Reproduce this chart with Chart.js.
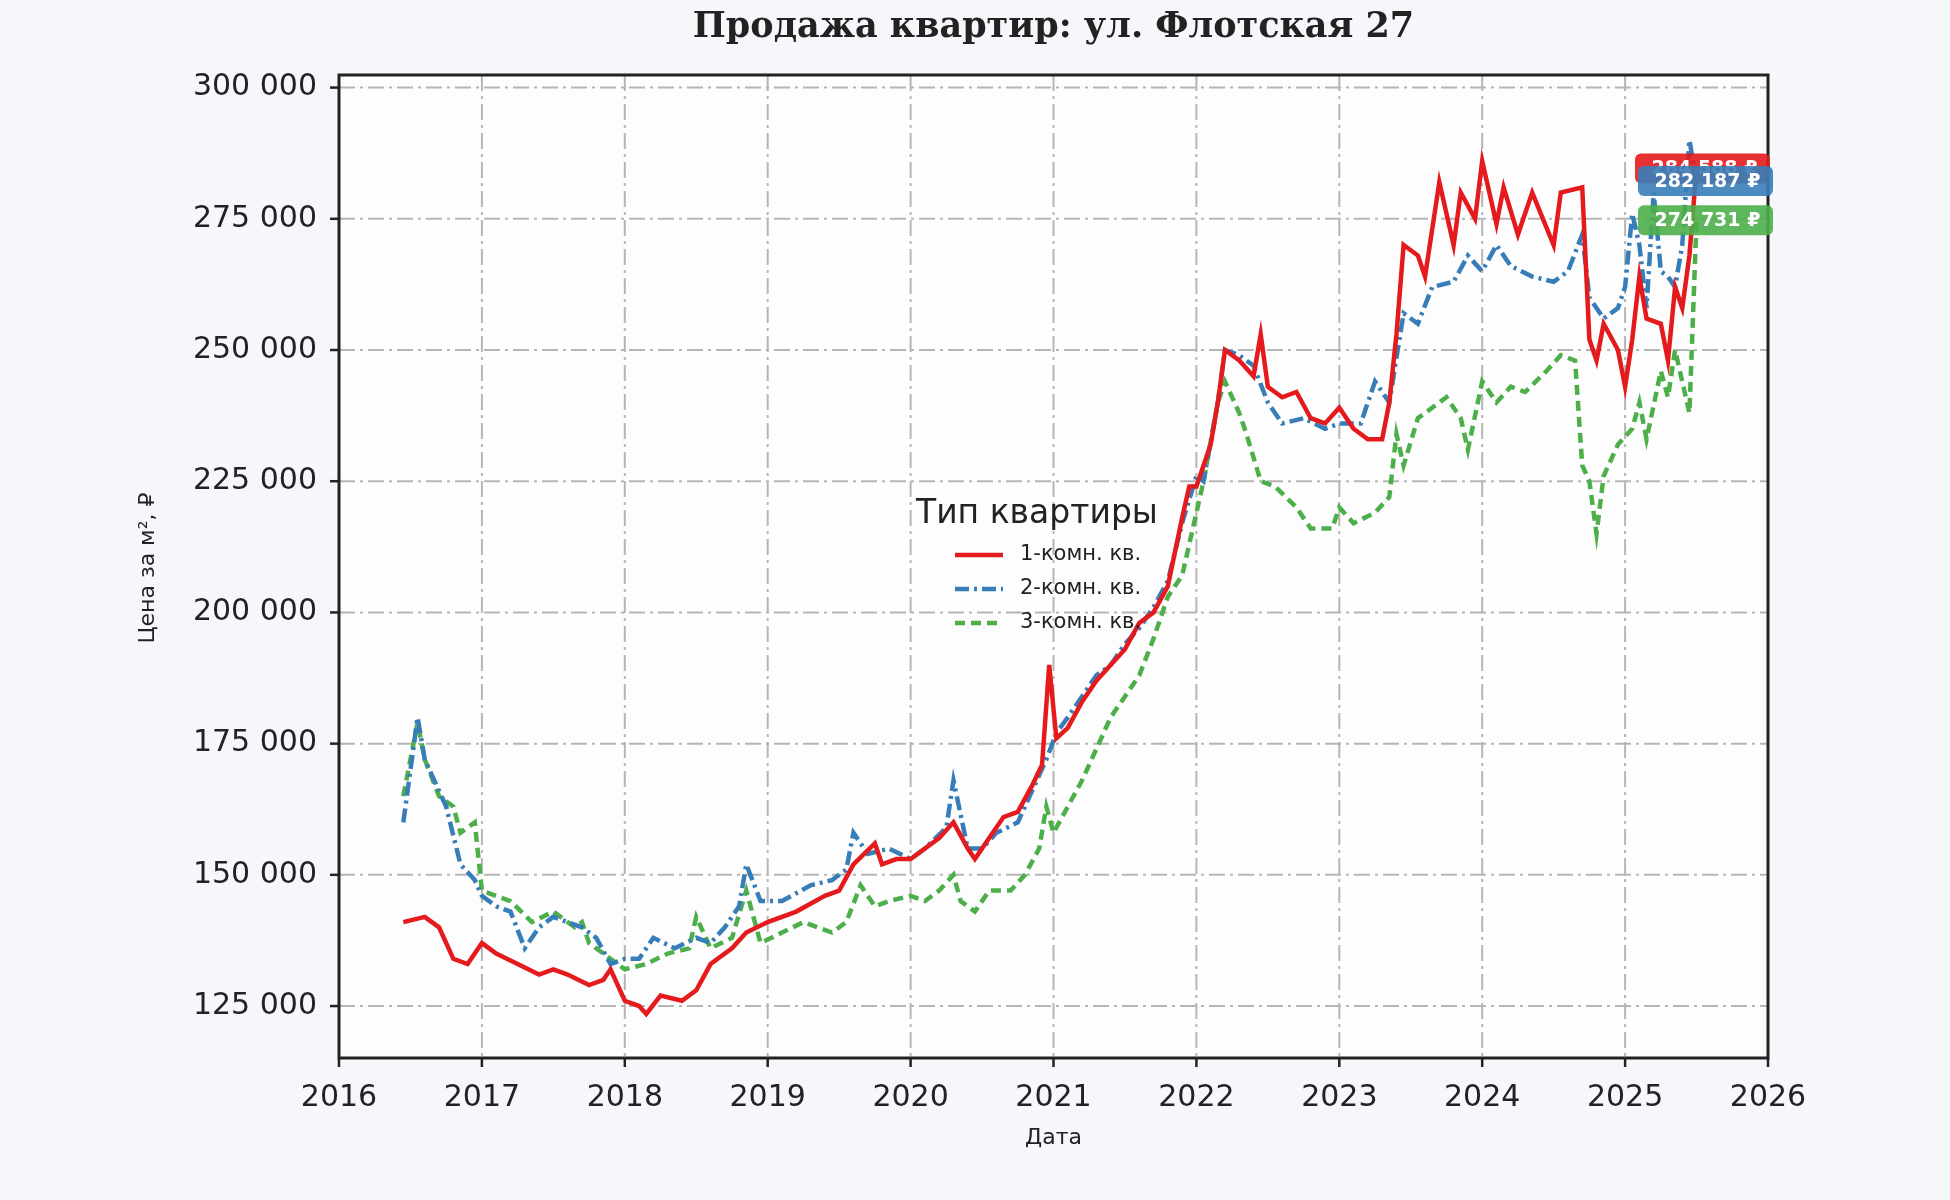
<!DOCTYPE html>
<html><head><meta charset="utf-8">
<script src="https://cdn.jsdelivr.net/npm/chart.js@4/dist/chart.umd.min.js"></script>
<style>html,body{margin:0;padding:0;background:#f5f7fb}canvas{display:block}</style>
</head><body>
<div style="width:1950px;height:1200px"><canvas id="c"></canvas></div>
<script>
const chartTitle = 'Продажа квартир: ул. Флотская 27';
const xAxisTitle = 'Дата';
const yAxisTitle = 'Цена за м², ₽';
const seriesNames = ['1-комн. кв.', '2-комн. кв.', '3-комн. кв.'];
const seriesColors = ['#e41a1c', '#377eb8', '#4daf4a'];
const xTicks = [2016,2017,2018,2019,2020,2021,2022,2023,2024,2025,2026];
const yTicks = [125000,150000,175000,200000,225000,250000,275000,300000];

const room1X = [2016.45,2016.6,2016.7,2016.8,2016.9,2017.0,2017.1,2017.25,2017.4,2017.5,2017.6,2017.75,2017.85,2017.9,2018.0,2018.1,2018.15,2018.25,2018.4,2018.5,2018.6,2018.75,2018.85,2019.0,2019.2,2019.4,2019.5,2019.6,2019.75,2019.8,2019.9,2020.0,2020.2,2020.3,2020.4,2020.45,2020.55,2020.65,2020.75,2020.85,2020.92,2020.97,2021.02,2021.1,2021.2,2021.3,2021.4,2021.5,2021.6,2021.7,2021.8,2021.9,2021.95,2022.0,2022.1,2022.15,2022.2,2022.3,2022.4,2022.45,2022.5,2022.6,2022.7,2022.8,2022.9,2023.0,2023.1,2023.2,2023.3,2023.35,2023.4,2023.45,2023.55,2023.6,2023.7,2023.8,2023.85,2023.95,2024.0,2024.1,2024.15,2024.25,2024.35,2024.5,2024.55,2024.7,2024.75,2024.8,2024.85,2024.95,2025.0,2025.05,2025.1,2025.15,2025.25,2025.3,2025.35,2025.4,2025.45,2025.5];
const room1Y = [141,142,140,134,133,137,135,133,131,132,131,129,130,132,126,125,123.5,127,126,128,133,136,139,141,143,146,147,152,156,152,153,153,157,160,155,153,157,161,162,167,171,190,176,178,183,187,190,193,198,200,205,218,224,224,232,240,250,248,245,253,243,241,242,237,236,239,235,233,233,240,253,270,268,264,282,270,280,275,286,274,281,272,280,270,280,281,252,248,255,250,243,252,264,256,255,248,262,258,268,284.588];

const room2X = [2016.45,2016.5,2016.55,2016.6,2016.75,2016.85,2016.95,2017.0,2017.1,2017.2,2017.3,2017.4,2017.5,2017.6,2017.7,2017.8,2017.9,2018.0,2018.1,2018.2,2018.35,2018.5,2018.6,2018.7,2018.8,2018.85,2018.95,2019.1,2019.3,2019.45,2019.55,2019.6,2019.7,2019.85,2020.0,2020.1,2020.25,2020.3,2020.4,2020.5,2020.6,2020.75,2020.85,2020.95,2021.02,2021.1,2021.2,2021.3,2021.4,2021.5,2021.6,2021.7,2021.8,2021.9,2022.0,2022.05,2022.15,2022.2,2022.3,2022.4,2022.5,2022.6,2022.75,2022.9,2023.0,2023.15,2023.25,2023.35,2023.45,2023.55,2023.65,2023.8,2023.9,2024.0,2024.1,2024.2,2024.35,2024.5,2024.6,2024.7,2024.75,2024.85,2024.95,2025.0,2025.05,2025.1,2025.15,2025.2,2025.25,2025.3,2025.35,2025.4,2025.45,2025.5];
const room2Y = [160,170,180,172,163,152,149,146,144,143,136,140,142,141,140,138,133,134,134,138,136,138,137,140,144,152,145,145,148,149,151,158,154,155,153,155,159,168,155,155,158,160,166,172,177,180,184,188,190,194,197,201,206,217,226,225,240,250,249,247,240,236,237,235,236,236,244,240,257,255,262,263,268,265,270,266,264,263,265,272,260,256,258,262,276,270,258,280,265,264,262,270,290,282.187];

const room3X = [2016.45,2016.5,2016.55,2016.6,2016.7,2016.8,2016.85,2016.95,2017.0,2017.1,2017.2,2017.35,2017.5,2017.65,2017.7,2017.75,2017.9,2018.0,2018.15,2018.3,2018.45,2018.5,2018.6,2018.75,2018.85,2018.95,2019.1,2019.25,2019.35,2019.45,2019.55,2019.65,2019.75,2019.85,2020.0,2020.1,2020.2,2020.3,2020.35,2020.45,2020.55,2020.7,2020.8,2020.9,2020.95,2021.0,2021.1,2021.2,2021.3,2021.4,2021.5,2021.6,2021.7,2021.8,2021.9,2021.95,2022.05,2022.15,2022.2,2022.3,2022.35,2022.45,2022.55,2022.7,2022.8,2022.95,2023.0,2023.1,2023.25,2023.35,2023.4,2023.45,2023.55,2023.65,2023.75,2023.85,2023.9,2024.0,2024.1,2024.2,2024.3,2024.45,2024.55,2024.65,2024.7,2024.75,2024.8,2024.85,2024.95,2025.05,2025.1,2025.15,2025.25,2025.3,2025.35,2025.4,2025.45,2025.5];
const room3Y = [165,172,179,172,165,163,158,160,147,146,145,141,143,140,141,137,134,132,133,135,136,142,136,138,147,137,139,141,140,139,141,148,144,145,146,145,147,150,145,143,147,147,150,155,163,158,163,168,174,180,184,188,195,203,207,213,225,240,244,238,234,225,224,220,216,216,220,217,219,222,234,228,237,239,241,237,231,244,240,243,242,246,249,248,228,225,215,226,232,235,240,233,246,241,250,244,238,274.731];

const lastLabels = ['284 588 ₽', '282 187 ₽', '274 731 ₽'];

function pts(xs, ys){ return xs.map((x,i)=>({x:x, y:ys[i]*1000})); }
const fmt = v => Math.round(v).toString().replace(/\B(?=(\d{3})+(?!\d))/g, ' ');

const deco = {
  id:'deco',
  beforeDraw(c){
    const ctx=c.ctx, a=c.chartArea;
    ctx.save();
    ctx.fillStyle='#f5f7fb'; ctx.fillRect(0,0,c.width,c.height);
    ctx.fillStyle='#fdfdfe'; ctx.fillRect(a.left,a.top,a.right-a.left,a.bottom-a.top);
    ctx.strokeStyle='#b5b5b5'; ctx.lineWidth=2; ctx.setLineDash([16,5,3,5]);
    const xs=c.scales.x, ys=c.scales.y;
    xTicks.forEach(t=>{const p=xs.getPixelForValue(t); ctx.beginPath(); ctx.moveTo(p,a.top); ctx.lineTo(p,a.bottom); ctx.stroke();});
    yTicks.forEach(t=>{const p=ys.getPixelForValue(t); ctx.beginPath(); ctx.moveTo(a.left,p); ctx.lineTo(a.right,p); ctx.stroke();});
    ctx.restore();
  },
  afterDraw(c){
    const ctx=c.ctx, a=c.chartArea, xs=c.scales.x, ys=c.scales.y;
    ctx.save();
    ctx.strokeStyle='#222'; ctx.lineWidth=3; ctx.setLineDash([]);
    ctx.strokeRect(a.left,a.top,a.right-a.left,a.bottom-a.top);
    ctx.lineWidth=2.5;
    xTicks.forEach(t=>{const p=xs.getPixelForValue(t); ctx.beginPath(); ctx.moveTo(p,a.bottom); ctx.lineTo(p,a.bottom+9); ctx.stroke();});
    yTicks.forEach(t=>{const p=ys.getPixelForValue(t); ctx.beginPath(); ctx.moveTo(a.left,p); ctx.lineTo(a.left-9,p); ctx.stroke();});
    ctx.fillStyle='#222'; ctx.font='bold 35px "DejaVu Serif"'; ctx.textAlign='center'; ctx.textBaseline='middle';
    ctx.fillText(chartTitle, (a.left+a.right)/2, 28);
    ctx.font='22px "DejaVu Sans"';
    ctx.fillText(xAxisTitle, (a.left+a.right)/2, 1138);
    ctx.save(); ctx.translate(148, 568); ctx.rotate(-Math.PI/2); ctx.fillText(yAxisTitle, 0, 0); ctx.restore();
    ctx.textAlign='left'; ctx.font='33px "DejaVu Sans"'; ctx.fillStyle='#222';
    ctx.fillText('Тип квартиры', 916, 514);
    const dashes=[[],[14,5,3,5],[10,6]];
    seriesNames.forEach((n,i)=>{
      const y=555+i*34;
      ctx.strokeStyle=seriesColors[i]; ctx.lineWidth=4.5; ctx.setLineDash(dashes[i]);
      ctx.beginPath(); ctx.moveTo(955,y); ctx.lineTo(1003,y); ctx.stroke();
      ctx.setLineDash([]); ctx.fillStyle='#222'; ctx.font='21px "DejaVu Sans"';
      ctx.fillText(n, 1020, y);
    });
    const vals=[room1Y[room1Y.length-1], room2Y[room2Y.length-1], room3Y[room3Y.length-1]];
    ctx.font='bold 19px "DejaVu Sans"';
    vals.forEach((v,i)=>{
      const y=ys.getPixelForValue(v*1000);
      const x0=1638+(i===0?-3:0), w=135, h=30;
      ctx.globalAlpha=0.9; ctx.fillStyle=seriesColors[i];
      ctx.beginPath(); ctx.roundRect(x0,y-h/2,w,h,6); ctx.fill();
      ctx.globalAlpha=1; ctx.fillStyle='#fff'; ctx.textAlign='center';
      ctx.fillText(lastLabels[i], x0+w/2+2, y+1);
    });
    ctx.restore();
  }
};

new Chart(document.getElementById('c'), {
  type:'line',
  data:{datasets:[
    {label:seriesNames[0], data:pts(room1X,room1Y), borderColor:seriesColors[0], borderWidth:4.5, pointRadius:0, tension:0},
    {label:seriesNames[1], data:pts(room2X,room2Y), borderColor:seriesColors[1], borderWidth:4.5, pointRadius:0, borderDash:[14,5,3,5], tension:0},
    {label:seriesNames[2], data:pts(room3X,room3Y), borderColor:seriesColors[2], borderWidth:4.5, pointRadius:0, borderDash:[10,6], tension:0}
  ]},
  options:{
    responsive:true, maintainAspectRatio:false, animation:false,
    layout:{padding:{top:75,right:182,left:0,bottom:0}},
    plugins:{legend:{display:false}, title:{display:false}, tooltip:{enabled:false}},
    scales:{
      x:{type:'linear', min:2016, max:2026,
        afterFit(s){s.height=142;},
        afterBuildTicks(s){s.ticks=xTicks.map(v=>({value:v}));},
        grid:{display:false}, border:{display:false},
        ticks:{padding:14, color:'#222', font:{family:'DejaVu Sans', size:30}, maxRotation:0, callback:v=>String(v)}
      },
      y:{min:115100, max:302400,
        afterFit(s){s.width=339;},
        afterBuildTicks(s){s.ticks=yTicks.map(v=>({value:v}));},
        grid:{display:false}, border:{display:false},
        ticks:{padding:14, color:'#222', font:{family:'DejaVu Sans', size:30}, callback:v=>fmt(v)}
      }
    }
  },
  plugins:[deco]
});
</script>
</body></html>
